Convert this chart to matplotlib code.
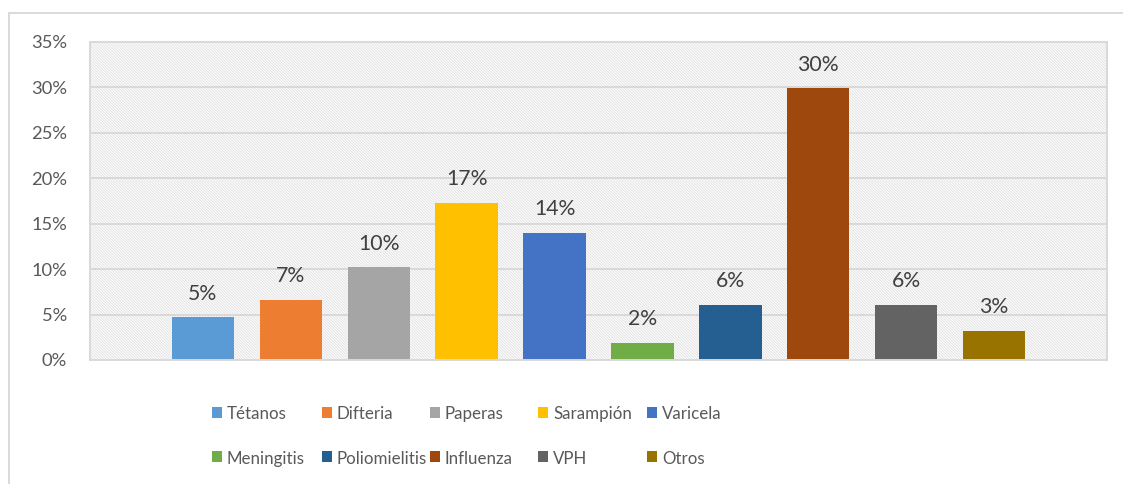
import matplotlib
matplotlib.use("Agg")
import matplotlib.pyplot as plt
from matplotlib.patches import Rectangle

plt.rcParams['font.family'] = ['Lato', 'DejaVu Sans']
plt.rcParams['hatch.linewidth'] = 0.7

# Data
categories = ["Tétanos", "Difteria", "Paperas", "Sarampión", "Varicela",
              "Meningitis", "Poliomielitis", "Influenza", "VPH", "Otros"]
values = [4.7, 6.6, 10.2, 17.3, 14.0, 1.9, 6.1, 29.9, 6.1, 3.2]
colors = ["#5B9BD5", "#ED7D31", "#A5A5A5", "#FFC000", "#4472C4",
          "#70AD47", "#255E91", "#9E480E", "#636363", "#997300"]
yticks = [0, 5, 10, 15, 20, 25, 30, 35]

W, H = 1123, 484
fig = plt.figure(figsize=(W / 100, H / 100), dpi=100)
fig.patch.set_facecolor("white")

def fx(px):
    return px / W

def fy(py):
    return 1 - py / H

# outer chart frame
fig.add_artist(Rectangle((fx(8.5), fy(495)), fx(1140) - fx(8.5), fy(13) - fy(495),
                         transform=fig.transFigure, facecolor="none",
                         edgecolor="#d9d9d9", lw=1.4))

ax = fig.add_axes([fx(90), fy(360), fx(1107) - fx(90), fy(42) - fy(360)])
ax.set_facecolor("white")

# hatched plot-area background
ax.add_patch(Rectangle((0, 0), 1, 1, transform=ax.transAxes, facecolor="white",
                       edgecolor="#e2e2e2", hatch="\\" * 12, lw=0, zorder=0.1))

x = list(range(len(categories)))
bars = ax.bar(x, values, width=0.71, color=colors, zorder=2)

for xi, v in zip(x, values):
    ax.annotate(f"{v:.0f}%", (xi, v), xytext=(0, 12.7), textcoords="offset points",
                ha="center", va="baseline", fontsize=15.3, color="#404040", zorder=3)

ax.set_xlim(-1.284, len(categories) - 1 + 1.284)
ax.set_ylim(0, 35)
ax.set_yticks(yticks)
ax.set_yticklabels([f"{t}%" for t in yticks])
ax.set_xticks([])
ax.tick_params(axis="y", length=0, pad=16.5, labelsize=13.2, labelcolor="#595959")
ax.set_axisbelow(True)
ax.yaxis.grid(True, color="#d9d9d9", lw=1.4, zorder=0.5)
for s in ax.spines.values():
    s.set_color("#d9d9d9")
    s.set_linewidth(1.4)

# legend: two rows of five evenly spaced entries
col_x = [212, 322, 430, 538, 647]
row_y = [(407, 419.3), (451, 463.8)]
for i, (name, c) in enumerate(zip(categories, colors)):
    r, col = divmod(i, 5)
    sq_top, base = row_y[r]
    x0 = col_x[col]
    fig.add_artist(Rectangle((fx(x0), fy(sq_top + 11)), fx(10), 11 / H,
                             transform=fig.transFigure, facecolor=c, edgecolor="none"))
    fig.text(fx(x0 + 15), fy(base), name, ha="left", va="baseline",
             fontsize=12.2, color="#595959")

fig.savefig("out.png", dpi=100, facecolor="white")
